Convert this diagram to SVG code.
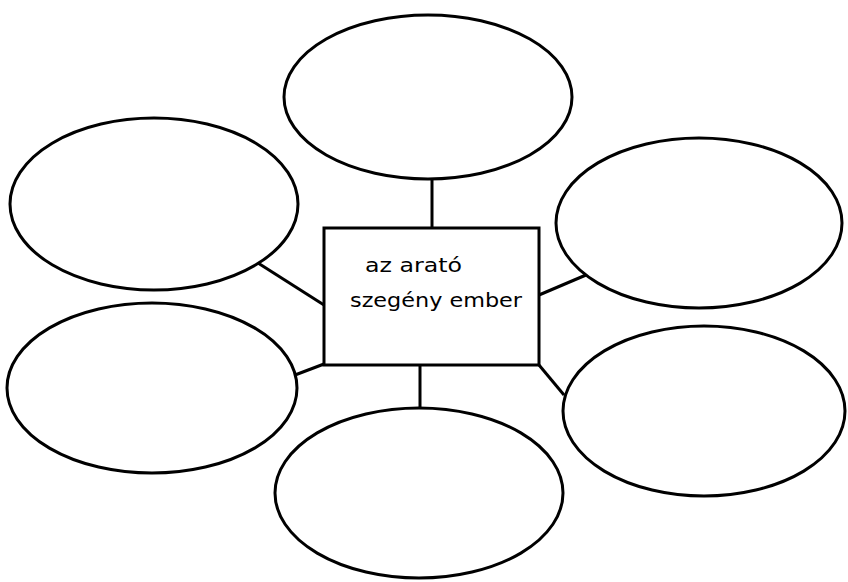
<svg xmlns="http://www.w3.org/2000/svg" width="848" height="582" viewBox="0 0 848 582">
<style>
.n{fill:#fff;stroke:#000;stroke-width:3}
.c line{stroke:#000;stroke-width:3}
.t{font-family:"DejaVu Sans","Liberation Sans",sans-serif;font-size:20px;fill:#000}
</style>
<rect width="848" height="582" fill="#fff"/>
<g class="c" id="connectors">
<line x1="432" y1="180" x2="432" y2="228"/>
<line x1="258" y1="263" x2="324" y2="305"/>
<line x1="539" y1="295" x2="586" y2="275"/>
<line x1="324" y1="364" x2="295" y2="375"/>
<line x1="420" y1="365" x2="420" y2="410"/>
<line x1="539" y1="365" x2="564" y2="395"/>
</g>
<g id="top"><ellipse class="n" cx="428" cy="97" rx="144" ry="82"/></g>
<g id="leftTop"><ellipse class="n" cx="154" cy="204" rx="144" ry="86"/></g>
<g id="rightTop"><ellipse class="n" cx="699" cy="223" rx="143" ry="85"/></g>
<g id="leftBottom"><ellipse class="n" cx="152" cy="388" rx="145" ry="85"/></g>
<g id="rightBottom"><ellipse class="n" cx="704" cy="411" rx="141" ry="85"/></g>
<g id="bottom"><ellipse class="n" cx="419" cy="493" rx="144" ry="85"/></g>
<g id="center">
<rect class="n" x="324" y="228" width="215" height="137"/>
<text class="t" x="365" y="272" textLength="97" lengthAdjust="spacingAndGlyphs">az arató</text>
<text class="t" x="350" y="307" textLength="172" lengthAdjust="spacingAndGlyphs">szegény ember</text>
</g>
</svg>
